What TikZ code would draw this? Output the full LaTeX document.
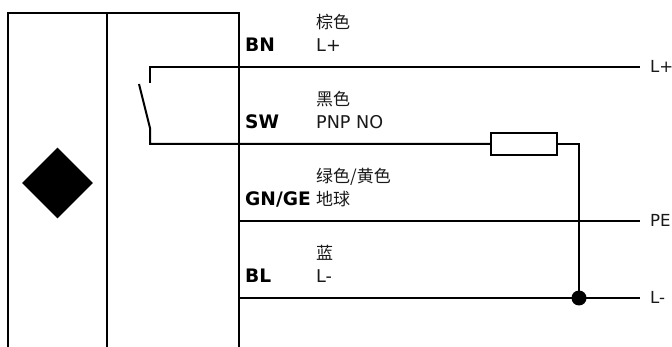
\documentclass[tikz,border=0pt]{standalone}
\usepackage{fontspec}
\setmainfont{DejaVu Sans}
\newfontfamily\cjk{Noto Sans CJK SC}
\usetikzlibrary{shapes.geometric}
\tikzset{
  wire/.style={line width=2pt,black},
  lbl/.style={font=\fontsize{17.6}{20}\selectfont,anchor=base west,inner sep=0pt,text=black!90},
  endlbl/.style={lbl,font=\fontsize{16.6}{20}\selectfont},
  tag/.style={font=\fontsize{18.6}{20}\selectfont\bfseries,anchor=base west,inner sep=0pt,text=black},
  cjklbl/.style={font=\fontsize{17}{20}\selectfont\cjk,anchor=base west,inner sep=0pt,text=black!90},
  res/.style={draw,line width=2pt,fill=white,minimum width=66pt,minimum height=22pt,inner sep=0pt},
  dot/.style={circle,fill=black,minimum size=15pt,inner sep=0pt},
  sensor/.style={diamond,fill=black,minimum width=71pt,minimum height=71pt,inner sep=0pt}
}
\begin{document}
\begin{tikzpicture}[x=1pt,y=-1pt]
\useasboundingbox (0,0) rectangle (672,347);
\fill[white] (0,0) rectangle (672,347);
% housing
\coordinate (tl) at (8,13);
\coordinate (tm) at (107,13);
\coordinate (tr) at (239,13);
\coordinate (bl) at (8,347);
\coordinate (bm) at (107,347);
\coordinate (br) at (239,347);
\draw[wire,line join=miter] (bl) -- (tl) -- (tr) -- (br);
\draw[wire] (tm) -- (bm);
\node[sensor] (sens) at (57.5,183) {};
% wires
\coordinate (c1) at (150,67);
\coordinate (c2) at (150,83);
\coordinate (armtip) at (139,84);
\coordinate (pivot) at (150,128);
\coordinate (c3) at (150,144);
\coordinate (lpe) at (239,221);
\coordinate (lm) at (239,298);
\coordinate (e1) at (640,67);
\coordinate (e2) at (640,221);
\coordinate (e3) at (640,298);
\coordinate (turn) at (579,144);
\node[res] (r) at (524,144) {};
\node[dot] (j) at (579,298) {};
\draw[wire] (c2) -- (c1) -- (e1);
\draw[wire] (armtip) -- (pivot) -- (c3) -- (r.west);
\draw[wire] (r.east) -- (turn) -- (j.center);
\draw[wire] (lpe) -- (e2);
\draw[wire] (lm) -- (e3);
% labels
\node[tag] (bn) at (245,51.5) {BN};
\node[tag] (sw) at (245,128.5) {SW};
\node[tag] (gn) at (245,205.5) {GN/GE};
\node[tag] (b) at (245,282.5) {BL};
\node[cjklbl] (t1) at (316,29) {棕色};
\node[lbl] (t2) at (316,51.5) {L+};
\node[cjklbl] (t3) at (316,106) {黑色};
\node[lbl] (t4) at (316,128.5) {PNP NO};
\node[cjklbl] (t5) at (316,183) {绿色/黄色};
\node[cjklbl] (t6) at (316,206) {地球};
\node[cjklbl] (t7) at (316,260) {蓝};
\node[lbl] (t8) at (316,282.5) {L-};
\node[endlbl] (o1) at (650,73) {L+};
\node[endlbl] (o2) at (650,227) {PE};
\node[endlbl] (o3) at (650,304) {L-};
\end{tikzpicture}
\end{document}
